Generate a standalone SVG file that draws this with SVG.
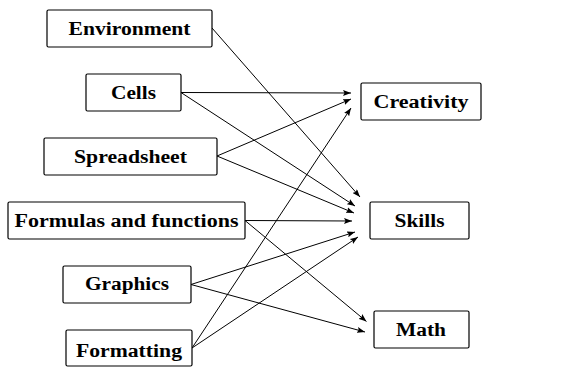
<svg xmlns="http://www.w3.org/2000/svg" width="563" height="367" viewBox="0 0 563 367">
<style>
.box{fill:#fff;stroke:#000;stroke-width:1.2}
.lbl{font-family:'Liberation Serif','DejaVu Serif','Times New Roman',serif;font-weight:bold;font-size:18px;fill:#000;text-anchor:middle}
.edge{stroke:#000;stroke-width:1;fill:none;marker-end:url(#arr)}
</style>
<defs>
<marker id="arr" viewBox="0 0 8 6" refX="8" refY="3" markerWidth="8" markerHeight="6" markerUnits="userSpaceOnUse" orient="auto">
<path d="M0,0 L8,3 L0,6 L1.5,3 Z" fill="#000"/>
</marker>
</defs>
<rect width="563" height="367" fill="#fff"/>
<g id="connectors">
<line class="edge" x1="212" y1="28" x2="360" y2="197"/>
<line class="edge" x1="181" y1="92.5" x2="351" y2="93"/>
<line class="edge" x1="181" y1="92.5" x2="355" y2="206"/>
<line class="edge" x1="217" y1="156" x2="351" y2="99"/>
<line class="edge" x1="217" y1="156" x2="354" y2="213"/>
<line class="edge" x1="245" y1="220.5" x2="352" y2="221"/>
<line class="edge" x1="245" y1="220.5" x2="366.5" y2="321.5"/>
<line class="edge" x1="191" y1="284.5" x2="355" y2="232"/>
<line class="edge" x1="191" y1="284.5" x2="365" y2="332"/>
<line class="edge" x1="192" y1="348" x2="351" y2="108"/>
<line class="edge" x1="192" y1="348" x2="358" y2="237"/>
</g>
<g id="environment"><rect class="box" x="47" y="10" width="165" height="37" rx="1.5"/><text class="lbl" x="129.5" y="35" textLength="122" lengthAdjust="spacingAndGlyphs">Environment</text></g>
<g id="cells"><rect class="box" x="86" y="74" width="95" height="37" rx="1.5"/><text class="lbl" x="133.5" y="99" textLength="45" lengthAdjust="spacingAndGlyphs">Cells</text></g>
<g id="spreadsheet"><rect class="box" x="44" y="138" width="173" height="37" rx="1.5"/><text class="lbl" x="130.5" y="162.5" textLength="113" lengthAdjust="spacingAndGlyphs">Spreadsheet</text></g>
<g id="formulas"><rect class="box" x="8" y="202" width="237" height="37" rx="1.5"/><text class="lbl" x="126.5" y="226.5" textLength="224" lengthAdjust="spacingAndGlyphs">Formulas and functions</text></g>
<g id="graphics"><rect class="box" x="63" y="266" width="128" height="37" rx="1.5"/><text class="lbl" x="127" y="290" textLength="84" lengthAdjust="spacingAndGlyphs">Graphics</text></g>
<g id="formatting"><rect class="box" x="66" y="330" width="126" height="36" rx="1.5"/><text class="lbl" x="129" y="356.5" textLength="106" lengthAdjust="spacingAndGlyphs">Formatting</text></g>
<g id="creativity"><rect class="box" x="361" y="83" width="120" height="37" rx="1.5"/><text class="lbl" x="421" y="107.5" textLength="95" lengthAdjust="spacingAndGlyphs">Creativity</text></g>
<g id="skills"><rect class="box" x="370" y="202" width="99" height="37" rx="1.5"/><text class="lbl" x="419.5" y="227" textLength="50" lengthAdjust="spacingAndGlyphs">Skills</text></g>
<g id="math"><rect class="box" x="374" y="311" width="95" height="37" rx="1.5"/><text class="lbl" x="421" y="335.5" textLength="50" lengthAdjust="spacingAndGlyphs">Math</text></g>
</svg>
